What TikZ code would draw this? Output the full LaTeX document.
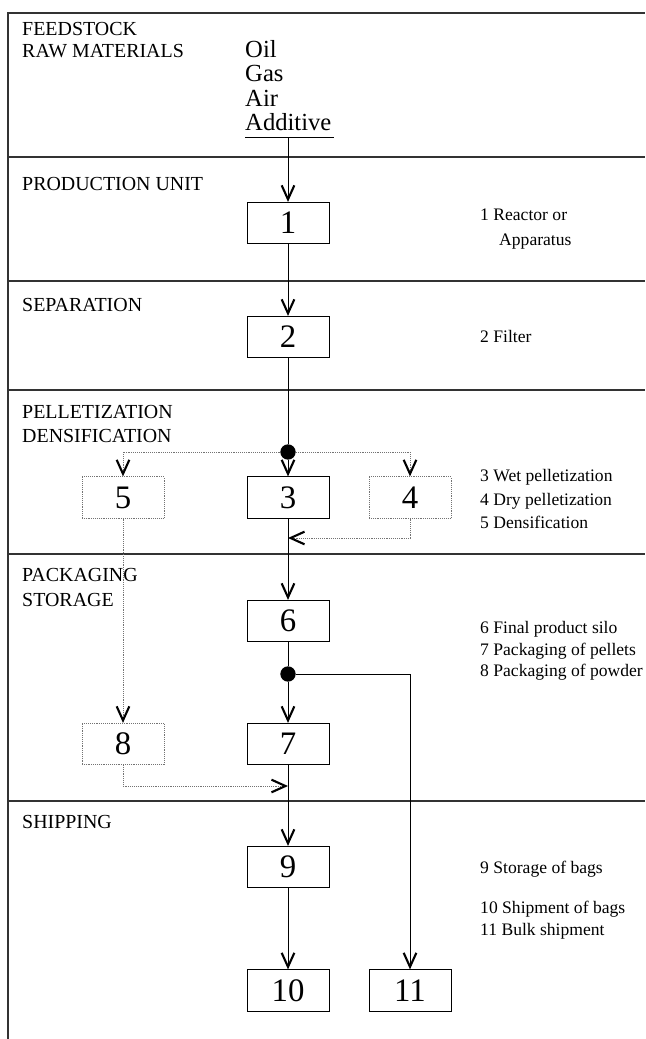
\documentclass[tikz,border=0pt]{standalone}
\usepackage{fontspec}
\setmainfont{Liberation Serif}
\usetikzlibrary{arrows.meta, calc, positioning}

\tikzset{
    unit/.style={draw, line width=0.6pt, minimum width=2.46cm, minimum height=1.245cm, inner sep=0pt, font=\fontsize{28}{28}\selectfont},
    optunit/.style={unit, draw=black!55, densely dotted},
    flow/.style={line width=0.6pt, -{Straight Barb[length=4.2mm, width=3.8mm, line width=1.8pt, color=black]}},
    optflow/.style={flow, black!55, densely dotted},
    stage/.style={anchor=base west, inner sep=0pt, font=\fontsize{17}{17}\selectfont},
    feed/.style={anchor=base west, inner sep=0pt, font=\fontsize{21}{21}\selectfont},
    note/.style={anchor=base west, inner sep=0pt, font=\fontsize{15}{15}\selectfont},
    rule/.style={line width=1pt, black!80},
    junction/.style={circle, fill, inner sep=0pt, minimum size=0.46cm}
}

\begin{document}
\begin{tikzpicture}[x=0.03cm, y=-0.03cm]
    \useasboundingbox (0,0) rectangle (645,1039);

    % frame and stage rules
    \draw[rule] (8,1039) -- (8,13) -- (645,13);
    \foreach \y in {157,281,390,554,801}
        \draw[rule] (8,\y) -- (645,\y);

    % stage names
    \node[stage] (stfeed) at (22,36) {FEEDSTOCK};
    \node[stage] (straw) at (22,58) {RAW MATERIALS};
    \node[stage] (stprod) at (22,190) {PRODUCTION UNIT};
    \node[stage] (stsep) at (22,311) {SEPARATION};
    \node[stage] (stpel) at (22,418) {PELLETIZATION};
    \node[stage] (stdens) at (22,442) {DENSIFICATION};
    \node[stage] (stpack) at (22,581) {PACKAGING};
    \node[stage] (ststor) at (22,606) {STORAGE};
    \node[stage] (stship) at (22,828) {SHIPPING};

    % feedstock
    \node[feed] (oil) at (245,58) {Oil};
    \node[feed] (gas) at (245,82) {Gas};
    \node[feed] (air) at (245,106) {Air};
    \node[feed] (additive) at (245,130) {Additive};
    \coordinate (addl) at (245,137);
    \coordinate (addr) at (334,137);
    \coordinate (feedout) at (288,137);
    \draw[line width=0.6pt] (addl) -- (addr);

    % units
    \node[unit] (u1) at (288,223) {1};
    \node[unit] (u2) at (288,337) {2};
    \node[unit] (u3) at (288,497.5) {3};
    \node[optunit] (u5) at (123,497.5) {5};
    \node[optunit] (u4) at (410,497.5) {4};
    \node[unit] (u6) at (288,621) {6};
    \node[unit] (u7) at (288,744) {7};
    \node[optunit] (u8) at (123,744) {8};
    \node[unit] (u9) at (288,867) {9};
    \node[unit] (u10) at (288,990.5) {10};
    \node[unit] (u11) at (410,990.5) {11};

    \node[junction] (j1) at (288,452) {};
    \node[junction] (j2) at (288,674) {};
    \coordinate (m1) at (288,538);
    \coordinate (m2) at (288,786);

    % flows
    \draw[flow] (feedout) -- (u1);
    \draw[flow] (u1) -- (u2);
    \draw[line width=0.6pt] (u2) -- (j1);
    \draw[flow] (j1) -- (u3);
    \draw[optflow] (j1) -| (u5);
    \draw[optflow] (j1) -| (u4);
    \draw[flow] (u3) -- (u6);
    \draw[optflow] (u4) |- (m1);
    \draw[optflow] (u5) -- (u8);
    \draw[line width=0.6pt] (u6) -- (j2);
    \draw[flow] (j2) -- (u7);
    \draw[flow] (j2) -| (u11);
    \draw[flow] (u7) -- (u9);
    \draw[optflow] (u8) |- (m2);
    \draw[flow] (u9) -- (u10);

    % legend
    \node[note] (n1) at (480,220) {1 Reactor or};
    \node[note] (n1b) at (499,245) {Apparatus};
    \node[note] (n2) at (480,342) {2 Filter};
    \node[note] (n3) at (480,481) {3 Wet pelletization};
    \node[note] (n4) at (480,505) {4 Dry pelletization};
    \node[note] (n5) at (480,528) {5 Densification};
    \node[note] (n6) at (480,633) {6 Final product silo};
    \node[note] (n7) at (480,655) {7 Packaging of pellets};
    \node[note] (n8) at (480,676) {8 Packaging of powder};
    \node[note] (n9) at (480,873) {9 Storage of bags};
    \node[note] (n10) at (480,913) {10 Shipment of bags};
    \node[note] (n11) at (480,935) {11 Bulk shipment};
\end{tikzpicture}
\end{document}
